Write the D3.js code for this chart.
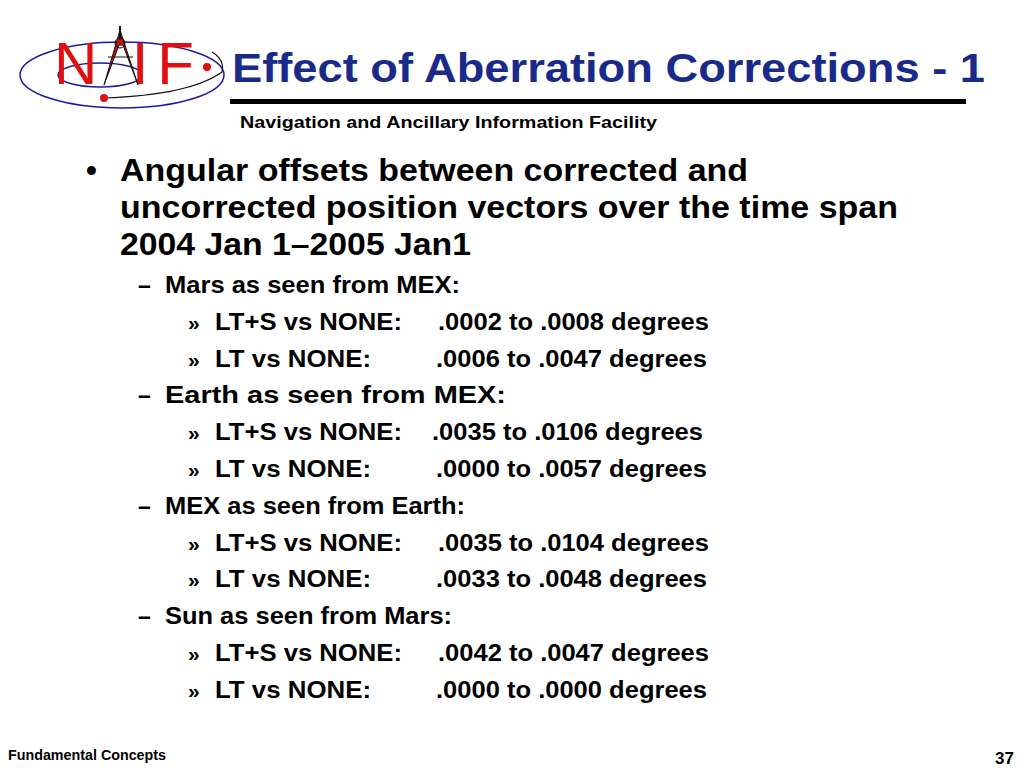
<!DOCTYPE html>
<html><head><meta charset="utf-8">
<script src="https://cdn.jsdelivr.net/npm/d3@7"></script>
<style>body{margin:0;background:#fff}</style>
</head><body>
<script>
const title = "Effect of Aberration Corrections - 1";
const subtitle = "Navigation and Ancillary Information Facility";
const introLines = ["Angular offsets between corrected and", "uncorrected position vectors over the time span", "2004 Jan 1\u20132005 Jan1"];
const introWidths = [628, 778, 351];
const groups = ["Mars as seen from MEX:", "Earth as seen from MEX:", "MEX as seen from Earth:", "Sun as seen from Mars:"];
const groupWidths = [295, 341, 300, 287];
const cases = ["LT+S vs NONE:", "LT vs NONE:"];
const caseWidths = [187, 156];
const ranges = [
  [".0002 to .0008 degrees", ".0006 to .0047 degrees"],
  [".0035 to .0106 degrees", ".0000 to .0057 degrees"],
  [".0035 to .0104 degrees", ".0033 to .0048 degrees"],
  [".0042 to .0047 degrees", ".0000 to .0000 degrees"]
];
const rangeX = [[438, 436], [432, 436], [438, 436], [438, 436]];

const svg = d3.select("body").append("svg").attr("width", 1024).attr("height", 768)
  .style("font-family", "Liberation Sans, Arial, sans-serif").style("font-weight", "bold");

function txt(x, yy, size, s, len) {
  const t = svg.append("text").attr("x", x).attr("y", yy).attr("font-size", size).text(s);
  if (len) t.attr("textLength", len).attr("lengthAdjust", "spacingAndGlyphs");
  return t;
}

// logo
const logo = svg.append("g");
logo.append("ellipse").attr("cx", 122).attr("cy", 75).attr("rx", 102).attr("ry", 33)
  .attr("fill", "none").attr("stroke", "#1a1aa6").attr("stroke-width", 1.5);
logo.append("ellipse").attr("cx", 100).attr("cy", 75).attr("rx", 42).attr("ry", 12)
  .attr("fill", "none").attr("stroke", "#1a1aa6").attr("stroke-width", 1.5);
logo.append("path").attr("d", "M104,98 Q190,95 222,72 Q225,60 212,52")
  .attr("fill", "none").attr("stroke", "#111").attr("stroke-width", 1.2);
logo.append("text").attr("x", 54).attr("y", 84).attr("font-size", 60).attr("font-weight", "normal")
  .attr("fill", "#e01010").attr("textLength", 140).text("N  IF");
logo.append("path").attr("d", "M120,30 L104,85 L119,45 L123,45 L138,85 Z").attr("fill", "#cc1010").attr("stroke", "#111").attr("stroke-width", 1);
logo.append("line").attr("x1", 120).attr("y1", 26).attr("x2", 120).attr("y2", 40).attr("stroke", "#111").attr("stroke-width", 2);
logo.append("circle").attr("cx", 120).attr("cy", 43).attr("r", 5).attr("fill", "none").attr("stroke", "#111");
logo.append("line").attr("x1", 108).attr("y1", 57).attr("x2", 133).attr("y2", 57).attr("stroke", "#111");
logo.append("circle").attr("cx", 104).attr("cy", 98).attr("r", 4).attr("fill", "#e01010");
logo.append("circle").attr("cx", 207).attr("cy", 67).attr("r", 4).attr("fill", "#e01010");

txt(232, 82, 40, title, 753).attr("fill", "#1a2a8a");
svg.append("rect").attr("x", 230).attr("y", 99).attr("width", 736).attr("height", 5).attr("fill", "#000");
txt(240, 128, 17, subtitle, 417);

const y = d3.scaleLinear().domain([0, 1]).range([170, 206.8]);
introLines.forEach((t, i) => txt(120, y(i) + 11, 31, t, introWidths[i]));
txt(86, y(0) + 11, 31, "\u2022");

let row = 3;
groups.forEach((g, gi) => {
  const gy = y(row) + 12.5;
  txt(138, gy, 23, "\u2013");
  txt(165, gy, 23, g, groupWidths[gi]);
  row++;
  cases.forEach((c, ci) => {
    const cy = y(row) + 12.5;
    txt(188, cy, 21, "\u00bb");
    txt(215, cy, 23, c, caseWidths[ci]);
    txt(rangeX[gi][ci], cy, 23, ranges[gi][ci], 271);
    row++;
  });
});

txt(8, 760, 14, "Fundamental Concepts", 158);
txt(1014, 764, 17, "37").attr("text-anchor", "end");
</script>
</body></html>
